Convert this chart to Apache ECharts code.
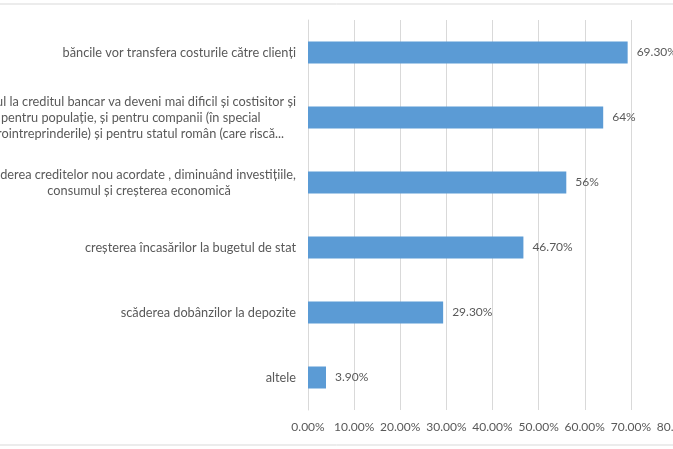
<!DOCTYPE html>
<html>
<head>
<meta charset="utf-8">
<script src="https://cdn.jsdelivr.net/npm/echarts@6.0.0/dist/echarts.min.js"></script>
<style>
  html, body { margin: 0; padding: 0; background: #fff; }
  #chart { width: 673px; height: 449px; }
</style>
</head>
<body>
<div id="chart"></div>
<script>
// categorii (de sus în jos)
const categories = [
    'băncile vor transfera costurile către clienți',
    'accesul la creditul bancar va deveni mai dificil și costisitor și\npentru populație, și pentru companii (în special\nmicrointreprinderile) și pentru statul român (care riscă...',
    'scăderea creditelor nou acordate , diminuând investițiile,\nconsumul și creșterea economică',
    'creșterea încasărilor la bugetul de stat',
    'scăderea dobânzilor la depozite',
    'altele'
];
const values = [69.3, 64, 56, 46.7, 29.3, 3.9];
const valueLabels = ['69.30%', '64%', '56%', '46.70%', '29.30%', '3.90%'];

const FONT = 'Lato, "Liberation Sans", sans-serif';
const FS = 12;
const FS_CAT = 12.75;
const TEXT = '#595959';

const myChart = echarts.init(document.getElementById('chart'));

const option = {
    backgroundColor: '#ffffff',
    animation: false,
    textStyle: { fontFamily: FONT },
    graphic: [
        {
            type: 'rect',
            silent: true,
            shape: { x: -10, y: 4, width: 693, height: 441 },
            style: { fill: 'none', stroke: '#d9d9d9', lineWidth: 1 }
        }
    ],
    grid: {
        left: 308,
        right: -4,
        top: 20,
        bottom: 39,
        containLabel: false,
        outerBoundsMode: 'none'
    },
    xAxis: {
        type: 'value',
        min: 0,
        max: 80,
        interval: 10,
        axisLine: { show: false },
        axisTick: { show: false },
        splitLine: { lineStyle: { color: '#d9d9d9', width: 1 } },
        axisLabel: {
            color: TEXT,
            fontSize: FS,
            fontFamily: FONT,
            margin: 11,
            showMaxLabel: true,
            hideOverlap: false,
            formatter: v => v.toFixed(2) + '%'
        }
    },
    yAxis: {
        type: 'category',
        inverse: true,
        data: categories,
        axisLine: { show: true, lineStyle: { color: '#d9d9d9' } },
        axisTick: { show: false },
        axisLabel: {
            margin: 12,
            align: 'right',
            color: TEXT,
            fontSize: FS_CAT,
            fontFamily: FONT,
            lineHeight: 16,
            interval: 0,
            formatter: v => v.split('\n').map(l => '{c|' + l + '}').join('\n'),
            rich: {
                c: {
                    align: 'center',
                    color: TEXT,
                    fontSize: FS_CAT,
                    fontFamily: FONT,
                    lineHeight: 16
                }
            }
        }
    },
    series: [
        {
            type: 'bar',
            data: values,
            barWidth: 22,
            itemStyle: { color: '#5b9bd5' },
            label: {
                show: true,
                position: 'right',
                distance: 9,
                color: TEXT,
                fontSize: FS,
                fontFamily: FONT,
                formatter: p => valueLabels[p.dataIndex]
            }
        }
    ]
};

myChart.setOption(option);
</script>
</body>
</html>
